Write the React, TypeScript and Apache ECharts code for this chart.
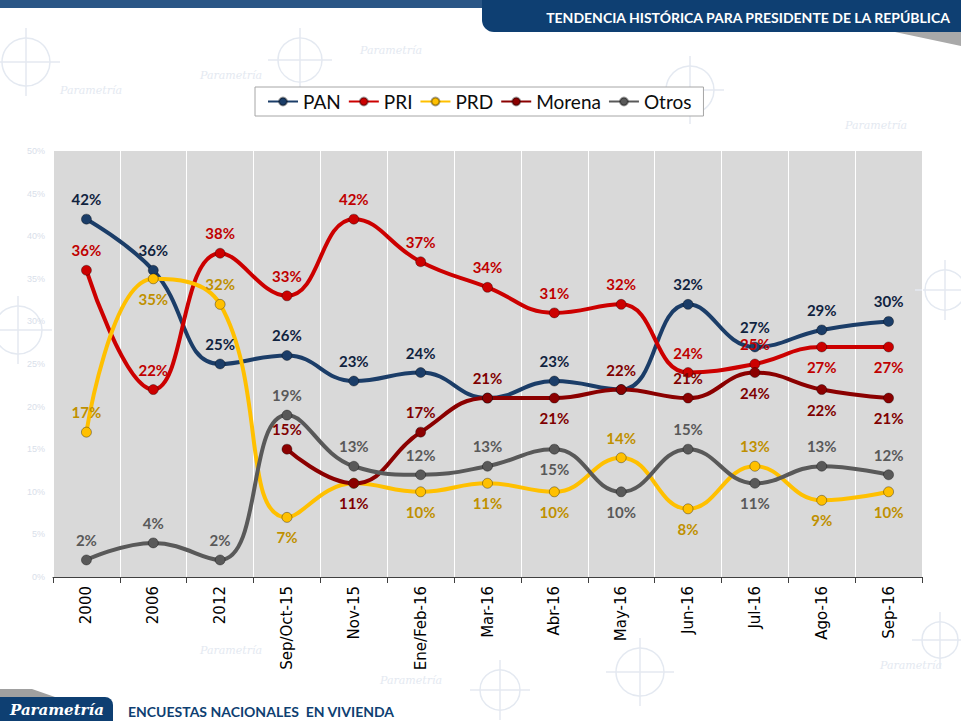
import { useEffect, useRef } from 'react';
import * as echarts from 'echarts';

const categories = ['2000', '2006', '2012', 'Sep/Oct-15', 'Nov-15', 'Ene/Feb-16', 'Mar-16', 'Abr-16', 'May-16', 'Jun-16', 'Jul-16', 'Ago-16', 'Sep-16'];
const pan = [42, 36, 25, 26, 23, 24, 21, 23, 22, 32, 27, 29, 30];
const pri = [36, 22, 38, 33, 42, 37, 34, 31, 32, 24, 25, 27, 27];
const prd = [17, 35, 32, 7, 11, 10, 11, 10, 14, 8, 13, 9, 10];
const morena = [null, null, null, 15, 11, 17, 21, 21, 22, 21, 24, 22, 21];
const otros = [2, 4, 2, 19, 13, 12, 13, 15, 10, 15, 11, 13, 12];

const NAVY = '#0e3f72';

// which point labels sit under the marker, and which are hidden
const seriesDefs = [
  { name: 'PAN', data: pan, line: '#1b3d68', label: '#10233f', below: [] as number[], hide: [6, 8] },
  { name: 'PRI', data: pri, line: '#cc0000', label: '#c00000', below: [11, 12], hide: [] as number[] },
  { name: 'PRD', data: prd, line: '#ffc000', label: '#bf9000', below: [1, 3, 5, 6, 7, 9, 11, 12], hide: [4] },
  { name: 'Morena', data: morena, line: '#8b0000', label: '#7f0000', below: [4, 7, 10, 11, 12], hide: [] as number[] },
  { name: 'Otros', data: otros, line: '#595959', label: '#595959', below: [7, 8, 10], hide: [] as number[] },
];

function watermark() {
  const c = '#e4e9f1';
  const items: any[] = [];
  const circles = [[26, 62, 24], [300, 60, 22], [690, 90, 24], [640, 672, 24], [945, 290, 20], [18, 330, 24], [940, 640, 18], [500, 690, 20]];
  circles.forEach(([x, y, r]) => {
    items.push({ type: 'circle', silent: true, shape: { cx: x, cy: y, r }, style: { fill: 'none', stroke: c, lineWidth: 1.5 } });
    items.push({ type: 'line', silent: true, shape: { x1: x - r - 10, y1: y, x2: x + r + 10, y2: y }, style: { stroke: c, lineWidth: 1.5 } });
    items.push({ type: 'line', silent: true, shape: { x1: x, y1: y - r - 10, x2: x, y2: y + r + 10 }, style: { stroke: c, lineWidth: 1.5 } });
  });
  const words = [[200, 70], [360, 45], [60, 85], [845, 120], [880, 660], [200, 645], [380, 675]];
  words.forEach(([x, y]) => {
    items.push({ type: 'text', silent: true, x, y, style: { text: 'Parametría', fill: c, font: 'italic 11px "DejaVu Serif"' } });
  });
  return items;
}

export default function App() {
  const chartRef = useRef<HTMLDivElement>(null);

  useEffect(() => {
    if (!chartRef.current) return;
    const chart = echarts.init(chartRef.current, null, { renderer: 'svg' });

    const series = seriesDefs.map((s) => ({
      name: s.name,
      type: 'line',
      smooth: 0.45,
      connectNulls: false,
      symbol: 'circle',
      symbolSize: 10,
      lineStyle: { color: s.line, width: 4 },
      itemStyle: { color: s.line, borderColor: 'rgba(0,0,0,0.35)', borderWidth: 1 },
      label: {
        show: true,
        position: 'top',
        distance: 7,
        color: s.label,
        fontFamily: 'Lato',
        fontWeight: 'bold',
        fontSize: 15,
        formatter: '{c}%',
      },
      data: s.data.map((v, i) =>
        v === null
          ? '-'
          : {
              value: v,
              label: s.hide.includes(i)
                ? { show: false }
                : s.below.includes(i)
                ? { position: 'bottom' }
                : undefined,
            }
      ),
    }));

    const option = {
      animation: false,
      backgroundColor: '#ffffff',
      grid: {
        left: 53,
        top: 151,
        width: 869,
        height: 426,
        show: true,
        backgroundColor: '#d9d9d9',
        borderWidth: 0,
      },
      legend: {
        left: 255,
        top: 87,
        padding: [5, 12, 5, 12],
        backgroundColor: '#ffffff',
        borderColor: '#a6a6a6',
        borderWidth: 1,
        itemWidth: 30,
        itemHeight: 10,
        itemGap: 7,
        textStyle: { fontFamily: 'Lato', fontSize: 19, color: '#0d0d0d' },
        data: seriesDefs.map((s) => s.name),
      },
      xAxis: {
        type: 'category',
        data: categories,
        boundaryGap: true,
        axisLine: { lineStyle: { color: '#404040', width: 1 } },
        axisTick: { show: true, length: 6, lineStyle: { color: '#404040' } },
        splitLine: { show: true, interval: 0, lineStyle: { color: '#ffffff', width: 1 } },
        axisLabel: {
          rotate: 90,
          interval: 0,
          margin: 9,
          color: '#000000',
          fontFamily: 'DejaVu Sans',
          fontSize: 15,
        },
      },
      yAxis: {
        type: 'value',
        min: 0,
        max: 50,
        interval: 5,
        axisLine: { show: false },
        axisTick: { show: false },
        splitLine: { show: false },
        axisLabel: {
          color: '#d9e0ea',
          fontSize: 9,
          margin: 8,
          formatter: '{value}%',
        },
      },
      graphic: [
        ...watermark(),
        { type: 'rect', silent: true, shape: { x: 0, y: 0, width: 961, height: 8 }, style: { fill: '#2a5686' } },
        { type: 'rect', silent: true, shape: { x: 482, y: 0, width: 479, height: 32, r: [0, 0, 0, 12] }, style: { fill: NAVY } },
        { type: 'polygon', silent: true, shape: { points: [[895, 32], [961, 32], [961, 46]] }, style: { fill: '#a9a9a9' } },
        {
          type: 'text',
          silent: true,
          x: 950,
          y: 17,
          style: {
            text: 'TENDENCIA HISTÓRICA PARA PRESIDENTE DE LA REPÚBLICA',
            fill: '#ffffff',
            font: 'bold 14px Lato',
            align: 'right',
            verticalAlign: 'middle',
          },
        },
        { type: 'polygon', silent: true, shape: { points: [[0, 689], [32, 689], [55, 697], [0, 697]] }, style: { fill: '#a0a0a0' } },
        { type: 'rect', silent: true, shape: { x: 0, y: 697, width: 113, height: 24, r: [0, 8, 0, 0] }, style: { fill: NAVY } },
        {
          type: 'text',
          silent: true,
          x: 10,
          y: 710,
          style: { text: 'Parametría', fill: '#ffffff', font: 'italic bold 15px "DejaVu Serif"', verticalAlign: 'middle' },
        },
        {
          type: 'text',
          silent: true,
          x: 128,
          y: 711,
          style: { text: 'ENCUESTAS NACIONALES  EN VIVIENDA', fill: NAVY, font: 'bold 14px Lato', verticalAlign: 'middle' },
        },
      ],
      series,
    };

    chart.setOption(option);
    return () => chart.dispose();
  }, []);

  return (
    <div
      ref={chartRef}
      style={{ position: 'absolute', left: 0, top: 0, width: 961, height: 721 }}
    />
  );
}
